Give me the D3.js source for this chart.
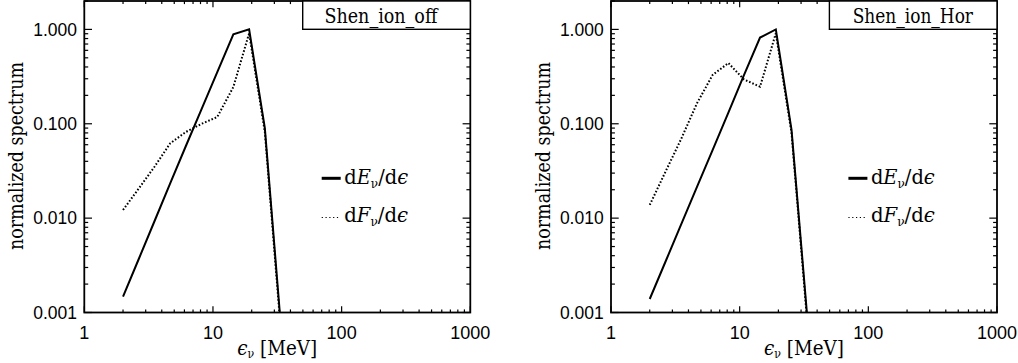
<!DOCTYPE html>
<html>
<head>
<meta charset="utf-8">
<script src="https://cdn.jsdelivr.net/npm/d3@7"></script>
<style>
  html, body { margin: 0; padding: 0; background: #fff; }
  svg { display: block; }
  .serif { font-family: "DejaVu Serif", serif; }
  .sans { font-family: "Liberation Sans", Arial, Helvetica, sans-serif; }
</style>
</head>
<body>
<svg id="chart" width="1018" height="363"></svg>
<script>
// ---------------- data ----------------
const energies   = [2.0, 2.65, 3.51, 4.65, 6.17, 8.17, 10.8, 14.4, 19.1, 25.3, 33.5];
const offEnergy  = [0.00147, 0.00369, 0.00927, 0.0233, 0.0585, 0.1435, 0.352, 0.885, 1.0, 0.09, 0.0008];
const offNumber  = [0.0122, 0.0206, 0.035, 0.062, 0.082, 0.100, 0.118, 0.245, 0.91, 0.082, 0.0007];
const horEnergy  = [0.00139, 0.00345, 0.00857, 0.0213, 0.053, 0.1315, 0.327, 0.82, 1.0, 0.086, 0.0009];
const horNumber  = [0.0138, 0.031, 0.069, 0.164, 0.33, 0.44, 0.295, 0.247, 0.91, 0.08, 0.0008];
const panelTitles = ["Shen_ion_off", "Shen_ion_Hor"];
const xTickValues = [1, 10, 100, 1000];
const yTickValues = [0.001, 0.01, 0.1, 1];
const xDomain = [1, 1000];
const yDomain = [0.001, 2];

// ---------------- layout ----------------
const svg = d3.select("#chart");
const panelLeft = [84.3, 611];
const plotW = 386, plotTop = 1, plotBottom = 312.5;
const titleCenter = [296.5, 301.8];
const titleWidth = [115, 121];

// squeeze a text element horizontally to a target ink width, about a pivot
function fitWidth(sel, target, pivot) {
  const bb = sel.node().getBBox();
  const s = target / bb.width;
  const px = pivot === "middle" ? bb.x + bb.width / 2 : bb.x;
  sel.attr("transform", `translate(${px},0) scale(${s},1) translate(${-px},0)`);
}

const panels = [
  { title: panelTitles[0], solid: offEnergy, dotted: offNumber },
  { title: panelTitles[1], solid: horEnergy, dotted: horNumber }
];

panels.forEach((p, i) => {
  const x0 = panelLeft[i], x1 = x0 + plotW;
  const x = d3.scaleLog().domain(xDomain).range([x0, x1]);
  const y = d3.scaleLog().domain(yDomain).range([plotBottom, plotTop]);
  const g = svg.append("g");

  const cid = "clip" + i;
  svg.append("clipPath").attr("id", cid).append("rect")
    .attr("x", x0).attr("y", plotTop).attr("width", plotW).attr("height", plotBottom - plotTop);

  // x ticks
  const xMinor = [];
  for (let d = 1; d < 1000; d *= 10) for (let k = 2; k <= 9; k++) xMinor.push(d * k);
  const xMajLen = 6.2, xMinLen = 3.1;
  const xt = g.append("g").attr("stroke", "#000").attr("stroke-width", 1.2);
  xMinor.forEach(v => {
    xt.append("line").attr("x1", x(v)).attr("x2", x(v)).attr("y1", plotBottom).attr("y2", plotBottom - xMinLen);
    xt.append("line").attr("x1", x(v)).attr("x2", x(v)).attr("y1", plotTop).attr("y2", plotTop + xMinLen);
  });
  xTickValues.forEach(v => {
    xt.append("line").attr("x1", x(v)).attr("x2", x(v)).attr("y1", plotBottom).attr("y2", plotBottom - xMajLen);
    xt.append("line").attr("x1", x(v)).attr("x2", x(v)).attr("y1", plotTop).attr("y2", plotTop + xMajLen);
  });

  // y ticks
  const yMinor = [];
  for (let d = 0.001; d < 1.5; d *= 10) for (let k = 2; k <= 9; k++) { const v = d * k; if (v <= yDomain[1] + 1e-9) yMinor.push(v); }
  const yMajLen = 7.7, yMinLen = 3.9;
  const yt = g.append("g").attr("stroke", "#000").attr("stroke-width", 1.2);
  yMinor.forEach(v => {
    yt.append("line").attr("x1", x0).attr("x2", x0 + yMinLen).attr("y1", y(v)).attr("y2", y(v));
    yt.append("line").attr("x1", x1).attr("x2", x1 - yMinLen).attr("y1", y(v)).attr("y2", y(v));
  });
  yTickValues.forEach(v => {
    yt.append("line").attr("x1", x0).attr("x2", x0 + yMajLen).attr("y1", y(v)).attr("y2", y(v));
    yt.append("line").attr("x1", x1).attr("x2", x1 - yMajLen).attr("y1", y(v)).attr("y2", y(v));
  });

  // tick labels
  const fmtY = d3.format(".3f");
  g.selectAll(".xl").data(xTickValues).enter().append("text")
    .attr("class", "sans")
    .attr("x", d => x(d)).attr("y", 338.5)
    .attr("text-anchor", "middle").attr("font-size", 18)
    .text(d => String(d));
  g.selectAll(".yl").data(yTickValues).enter().append("text")
    .attr("class", "sans")
    .attr("x", x0 - 7.3).attr("y", d => y(d) + 6.3)
    .attr("text-anchor", "end").attr("font-size", 17.5)
    .text(d => fmtY(d));

  // data lines
  const line = d3.line().x((d, j) => x(energies[j])).y(d => y(d));
  g.append("path").datum(p.solid).attr("clip-path", `url(#${cid})`)
    .attr("d", line).attr("fill", "none").attr("stroke", "#000").attr("stroke-width", 2);
  g.append("path").datum(p.dotted).attr("clip-path", `url(#${cid})`)
    .attr("d", line).attr("fill", "none").attr("stroke", "#000").attr("stroke-width", 2)
    .attr("stroke-dasharray", "1.6,1.9");

  // frame
  g.append("rect").attr("x", x0).attr("y", plotTop).attr("width", plotW).attr("height", plotBottom - plotTop)
    .attr("fill", "none").attr("stroke", "#000").attr("stroke-width", 1.8);

  // title box
  const bx = x0 + 218.4;
  g.append("rect").attr("x", bx).attr("y", plotTop).attr("width", x1 - bx).attr("height", 28.3)
    .attr("fill", "#fff").attr("stroke", "#000").attr("stroke-width", 1.4);
  const tt = g.append("text").attr("class", "serif")
    .attr("x", x0 + titleCenter[i]).attr("y", 23.5)
    .attr("text-anchor", "middle").attr("font-size", 19.5)
    .text(p.title);
  fitWidth(tt, titleWidth[i], "middle");

  // legend
  const lx = x0 + 237.4;
  g.append("line").attr("x1", lx).attr("x2", lx + 19).attr("y1", 178.3).attr("y2", 178.3)
    .attr("stroke", "#000").attr("stroke-width", 3);
  g.append("line").attr("x1", lx).attr("x2", lx + 19).attr("y1", 217.5).attr("y2", 217.5)
    .attr("stroke", "#000").attr("stroke-width", 1.2).attr("stroke-dasharray", "1.2,2.6");
  const leg = (yy, letter) => {
    const t = g.append("text").attr("class", "serif").attr("x", lx + 22.5).attr("y", yy)
      .attr("font-size", 19.5);
    t.append("tspan").text("d");
    t.append("tspan").attr("font-style", "italic").text(letter);
    t.append("tspan").attr("font-size", 12).attr("dy", 4).text("ν");
    t.append("tspan").attr("dy", -4).text("/d");
    t.append("tspan").attr("font-style", "italic").text("ϵ");
    fitWidth(t, 64, "start");
  };
  leg(184, "E");
  leg(222.5, "F");

  // x axis title
  const xt2 = g.append("text").attr("class", "serif").attr("x", (x0 + x1) / 2).attr("y", 355)
    .attr("text-anchor", "middle").attr("font-size", 20);
  xt2.append("tspan").attr("font-style", "italic").text("ϵ");
  xt2.append("tspan").attr("font-size", 12).attr("dy", 3).text("ν");
  xt2.append("tspan").attr("dy", -3).text(" [MeV]");
  fitWidth(xt2, 80, "middle");

  // y axis title
  g.append("text").attr("class", "serif")
    .attr("transform", `translate(${x0 - 61},156) rotate(-90)`)
    .attr("text-anchor", "middle").attr("font-size", 20.5)
    .attr("textLength", 188).attr("lengthAdjust", "spacingAndGlyphs")
    .text("normalized spectrum");
});
</script>
</body>
</html>
